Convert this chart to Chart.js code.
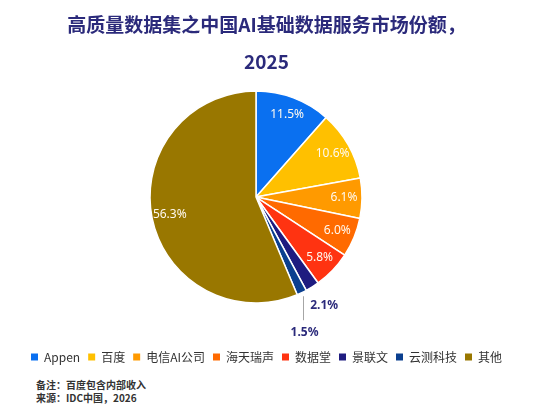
<!DOCTYPE html>
<html>
<head>
<meta charset="utf-8">
<script src="https://cdn.jsdelivr.net/npm/chart.js@4.4.1/dist/chart.umd.min.js"></script>
<style>
  html, body { margin: 0; padding: 0; background: #fff; }
  #wrap { width: 533px; height: 412px; }
  #chartBox { position: relative; width: 533px; height: 378px; }
  #notes {
    padding-left: 36px;
    font: bold 10px/13px "Noto Sans CJK SC", "Noto Sans", sans-serif;
    color: #333333;
  }
</style>
</head>
<body>
<div id="wrap">
  <div id="chartBox"><canvas id="shareChart"></canvas></div>
  <div id="notes"></div>
</div>
<script>
// 数据
const vendors = ['Appen', '百度', '电信AI公司', '海天瑞声', '数据堂', '景联文', '云测科技', '其他'];
const shares = [11.5, 10.6, 6.1, 6.0, 5.8, 2.1, 1.5, 56.3];
const colours = ['#0A70F0', '#FFC000', '#FF9A00', '#FF6A00', '#FF3311', '#1F1C80', '#0B3F8F', '#997700'];
const titleLines = ['高质量数据集之中国AI基础数据服务市场份额，', '2025'];
const notes = ['备注：百度包含内部收入', '来源：IDC中国，2026'];

const CJK = '"Noto Sans CJK SC", "Noto Sans", sans-serif';
const NAVY = '#2B2A7B';

document.getElementById('notes').innerHTML = notes.map(n => `<div>${n}</div>`).join('');

// flyt kagen lidt op/venstre i forhold til layoutet
const pieShift = {
    id: 'pieShift',
    afterLayout(chart) {
        const a = chart.chartArea;
        a.left -= 10.5; a.right -= 10.5;
        a.top -= 14.75; a.bottom -= 14.75;
    }
};

// procent-labels på skiverne
const sliceLabels = {
    id: 'sliceLabels',
    afterDatasetsDraw(chart) {
        const ctx = chart.ctx;
        const meta = chart.getDatasetMeta(0);
        let small = 0;
        ctx.save();
        ctx.textAlign = 'center';
        ctx.textBaseline = 'middle';
        meta.data.forEach((arc, i) => {
            const p = arc.getProps(['x', 'y', 'startAngle', 'endAngle', 'outerRadius'], true);
            const mid = (p.startAngle + p.endAngle) / 2;
            const txt = shares[i].toFixed(1) + '%';
            const cos = Math.cos(mid), sin = Math.sin(mid);
            if (shares[i] >= 3) {
                const r = p.outerRadius * 0.83;
                ctx.fillStyle = '#FFF9EF';
                ctx.font = '12px "Noto Sans", sans-serif';
                ctx.fillText(txt, p.x + cos * r, p.y + sin * r);
                return;
            }
            ctx.fillStyle = NAVY;
            ctx.font = 'bold 12px "Noto Sans", sans-serif';
            if (small === 0) {
                const r = p.outerRadius * 1.21;
                ctx.fillText(txt, p.x + cos * r, p.y + sin * r);
            } else {
                const sx = p.x + cos * (p.outerRadius + 4);
                const sy = p.y + sin * (p.outerRadius + 4);
                ctx.strokeStyle = '#A6A6A6';
                ctx.lineWidth = 1;
                ctx.beginPath();
                ctx.moveTo(sx, sy);
                ctx.lineTo(sx, sy + 24);
                ctx.stroke();
                ctx.fillText(txt, sx + 1, sy + 36);
            }
            small++;
        });
        ctx.restore();
    }
};

new Chart(document.getElementById('shareChart'), {
    type: 'pie',
    data: {
        labels: vendors,
        datasets: [{
            data: shares,
            backgroundColor: colours,
            borderColor: '#FFFFFF',
            borderWidth: 1.5
        }]
    },
    options: {
        responsive: true,
        maintainAspectRatio: false,
        animation: false,
        radius: 106,
        layout: { padding: { bottom: 5 } },
        plugins: {
            title: {
                display: true,
                text: titleLines,
                color: NAVY,
                font: { family: CJK, size: 19, weight: 'bold', lineHeight: 1.95 },
                padding: { top: 6.5, bottom: 0 }
            },
            legend: {
                position: 'bottom',
                labels: {
                    boxWidth: 7,
                    boxHeight: 7,
                    padding: 8,
                    color: '#333333',
                    font: { family: CJK, size: 12 },
                    generateLabels: chart =>
                        Chart.overrides.pie.plugins.legend.labels.generateLabels(chart)
                            .map(l => ({ ...l, lineWidth: 0 }))
                }
            },
            tooltip: { enabled: false }
        }
    },
    plugins: [pieShift, sliceLabels]
});
</script>
</body>
</html>
